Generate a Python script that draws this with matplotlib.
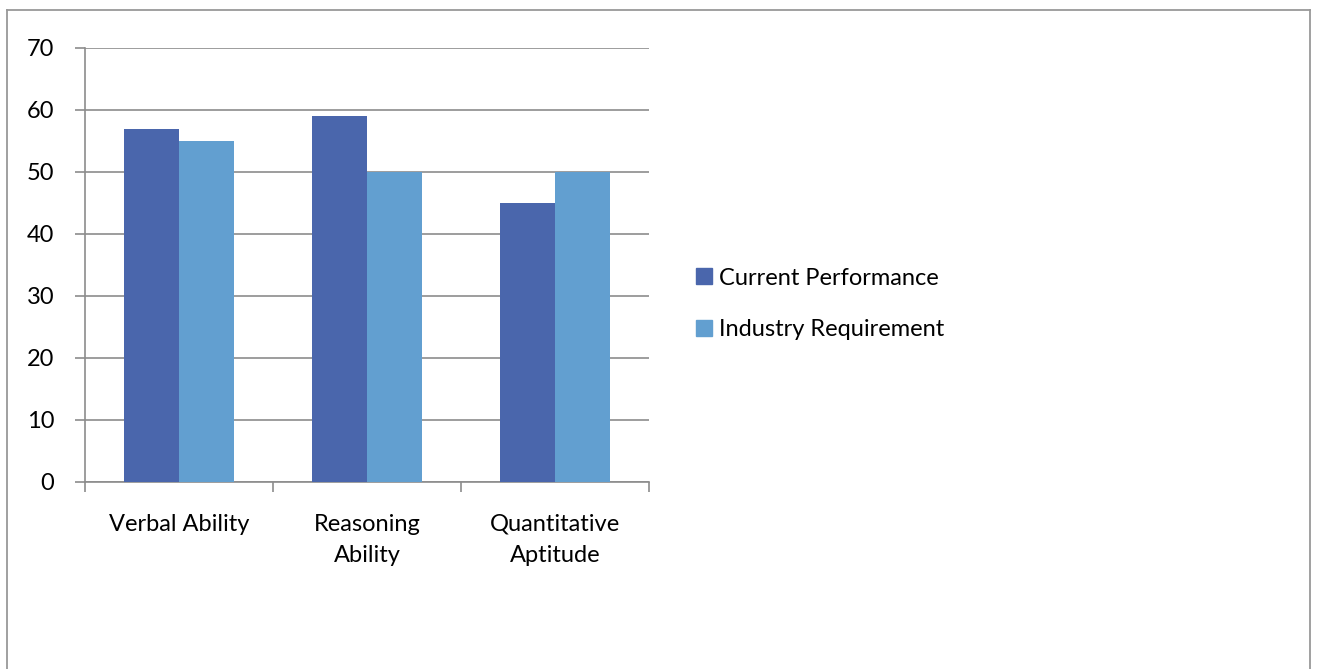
import matplotlib.pyplot as plt
import numpy as np
from matplotlib.lines import Line2D
from matplotlib.patches import Patch

categories = ["Verbal Ability", "Reasoning\nAbility", "Quantitative\nAptitude"]
current = [57, 59, 45]
industry = [55, 50, 50]
series_names = ["Current Performance", "Industry Requirement"]
colors = ["#4A66AC", "#629FD0"]

plt.rcParams['font.family'] = ['Lato', 'DejaVu Sans']

W, H = 1318, 669
fig = plt.figure(figsize=(W / 100, H / 100), dpi=100)
ax = fig.add_axes([85 / W, 1 - 482 / H, (649 - 85) / W, (482 - 48) / H])

x = np.arange(len(categories))
bw = 0.29
ax.bar(x - bw / 2, current, bw, color=colors[0], zorder=3)
ax.bar(x + bw / 2, industry, bw, color=colors[1], zorder=3)

ax.set_xlim(-0.5, len(categories) - 0.5)
ax.set_ylim(0, 70)
ax.set_yticks(range(0, 71, 10))
ax.yaxis.grid(True, color="#8C8C8C", linewidth=1.2, zorder=0)

ax.set_xticks(np.arange(-0.5, len(categories), 1.0))
ax.set_xticklabels([])
ax.set_xticks(x, minor=True)
ax.set_xticklabels(categories, minor=True, fontsize=17, linespacing=1.6)
ax.tick_params(axis='x', which='minor', length=0, pad=23)
ax.tick_params(axis='x', which='major', length=7, color="#8C8C8C", width=1.2)
ax.tick_params(axis='y', length=7, color="#8C8C8C", width=1.2, labelsize=17, pad=15)

for s in ['top', 'right']:
    ax.spines[s].set_visible(False)
for s in ['left', 'bottom']:
    ax.spines[s].set_color("#8C8C8C")
    ax.spines[s].set_linewidth(1.2)

handles = [Patch(color=c) for c in colors]
fig.legend(handles, series_names, loc='center left', bbox_to_anchor=(675 / W, 1 - 304 / H),
           frameon=False, fontsize=17, handlelength=0.65, handleheight=0.65,
           handletextpad=0.3, labelspacing=1.3)

# outer chart frame
fig.add_artist(Line2D([7 / W, 7 / W], [0, 1 - 10 / H], color="#999999", lw=1.3, transform=fig.transFigure))
fig.add_artist(Line2D([7 / W, 1310 / W], [1 - 10 / H, 1 - 10 / H], color="#999999", lw=1.3, transform=fig.transFigure))
fig.add_artist(Line2D([1310 / W, 1310 / W], [0, 1 - 10 / H], color="#999999", lw=1.3, transform=fig.transFigure))

fig.savefig("out.png", dpi=100)
